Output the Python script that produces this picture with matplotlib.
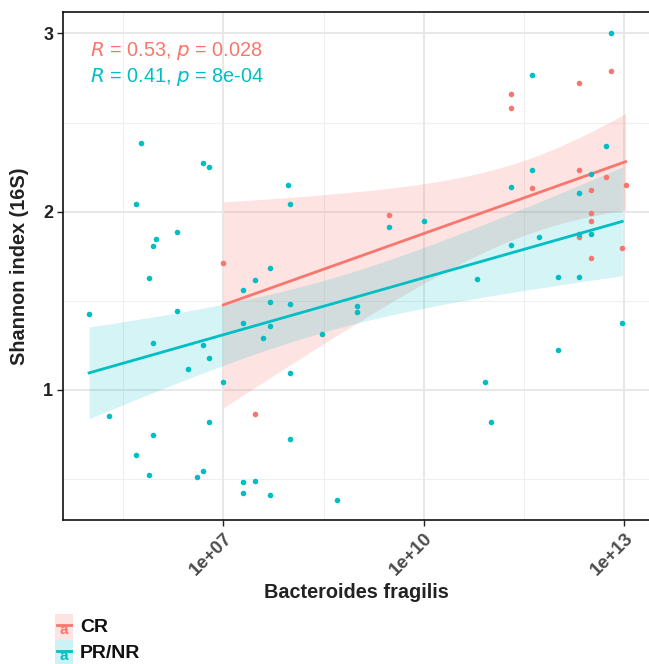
import numpy as np
import matplotlib
matplotlib.use("Agg")
import matplotlib.pyplot as plt
from matplotlib.patches import Rectangle
from matplotlib.lines import Line2D

plt.rcParams['font.family'] = ['Liberation Sans', 'DejaVu Sans']

# log10(Bacteroides fragilis), Shannon index
cr_logx = [7.0, 7.48, 9.48, 12.80, 12.32, 11.31, 11.31, 12.32, 12.72, 11.62,
           13.02, 12.50, 12.50, 12.50, 12.32, 12.97, 12.50]
cr_y = [1.711, 0.865, 1.982, 2.791, 2.720, 2.659, 2.584, 2.234, 2.195, 2.133,
        2.148, 2.121, 1.993, 1.946, 1.858, 1.794, 1.738]

pr_logx = [5.77, 6.70, 6.78, 5.69, 6.30, 5.99, 5.95, 5.89, 7.47, 7.30,
           4.99, 6.30, 7.30, 5.95, 6.70, 6.78, 6.47, 7.00, 5.29, 6.78,
           5.95, 5.69, 5.89, 6.60, 6.70, 7.30, 7.48, 7.30, 7.96, 8.00,
           9.48, 10.00, 7.70, 7.70, 8.00, 9.00, 9.00, 7.70, 7.60, 8.48,
           8.00, 8.00, 7.70, 8.70, 12.80, 11.62, 12.72, 11.62, 12.50, 11.31,
           12.32, 12.32, 12.50, 11.31, 11.72, 10.79, 12.01, 12.32, 12.97, 12.01,
           10.92, 11.01]
pr_y = [2.383, 2.275, 2.251, 2.044, 1.886, 1.849, 1.805, 1.630, 1.619, 1.561,
        1.423, 1.442, 1.376, 1.262, 1.251, 1.181, 1.118, 1.043, 0.853, 0.818,
        0.746, 0.633, 0.520, 0.511, 0.543, 0.485, 0.487, 0.423, 2.148, 2.044,
        1.913, 1.950, 1.683, 1.491, 1.482, 1.472, 1.437, 1.356, 1.292, 1.314,
        1.094, 0.722, 0.411, 0.382, 3.000, 2.769, 2.368, 2.233, 2.213, 2.140,
        2.103, 1.875, 1.875, 1.813, 1.856, 1.623, 1.634, 1.634, 1.375, 1.222,
        1.042, 0.818]

groups = ["CR", "PR/NR"]
colors = {"CR": "#F8766D", "PR/NR": "#00BFC4"}
ribbon_alpha = {"CR": 0.2, "PR/NR": 0.17}
labels_stat = {"CR": ("0.53", "0.028"), "PR/NR": ("0.41", "8e-04")}
t_crit = {"CR": 2.131, "PR/NR": 2.000}
data = {"CR": (np.array(cr_logx), np.array(cr_y)),
        "PR/NR": (np.array(pr_logx), np.array(pr_y))}

xticks = [1e7, 1e10, 1e13]
xticklabels = ["1e+07", "1e+10", "1e+13"]
yticks = [1, 2, 3]

W, H = 649, 664
fig = plt.figure(figsize=(W / 100, H / 100), dpi=100)
ax = fig.add_axes([63 / W, 1 - 520 / H, (649 - 63) / W, (520 - 12) / H])
ax.set_xscale('log')
ax.set_xlim(10 ** 4.6, 10 ** 13.37)
ax.set_ylim(0.27, 3.12)

# grid
for v in [5.5, 8.5, 11.5]:
    ax.axvline(10 ** v, color='#EFEFEF', lw=0.8, zorder=0)
for v in [0.5, 1.5, 2.5]:
    ax.axhline(v, color='#EFEFEF', lw=0.8, zorder=0)
for v in xticks:
    ax.axvline(v, color='#E8E8E8', lw=1.4, zorder=0)
for v in yticks:
    ax.axhline(v, color='#E8E8E8', lw=1.4, zorder=0)

# ribbons and lines
for g in groups:
    lx, y = data[g]
    n = len(lx)
    b, a = np.polyfit(lx, y, 1)
    resid = y - (a + b * lx)
    s = np.sqrt(np.sum(resid ** 2) / (n - 2))
    xm = lx.mean()
    sxx = np.sum((lx - xm) ** 2)
    xs = np.linspace(lx.min(), lx.max(), 100)
    yf = a + b * xs
    se = s * np.sqrt(1 / n + (xs - xm) ** 2 / sxx)
    ax.fill_between(10 ** xs, yf - t_crit[g] * se, yf + t_crit[g] * se,
                    color=colors[g], alpha=ribbon_alpha[g], lw=0, zorder=1)
    ax.plot(10 ** xs, yf, color=colors[g], lw=2, zorder=3)

for g in groups:
    lx, y = data[g]
    ax.scatter(10 ** lx, y, s=16, color=colors[g], lw=0, zorder=4)

# stats text
for i, g in enumerate(groups):
    r, p = labels_stat[g]
    ax.text(10 ** 5.0, 2.90 - i * 0.145,
            r"$\it{R}$ = " + r + r", $\it{p}$ = " + p,
            color=colors[g], fontsize=14.3, va='center', ha='left', zorder=5)

ax.set_xticks(xticks)
ax.set_xticklabels(xticklabels, rotation=45, ha='right', rotation_mode='anchor',
                   fontsize=13.5, fontweight='bold', color='#4D4D4D')
ax.minorticks_off()
ax.set_yticks(yticks)
ax.set_yticklabels([str(v) for v in yticks], fontsize=13, fontweight='bold',
                   color='#222222')
ax.tick_params(axis='both', length=4, width=1, color='#222222', pad=3)
for sp in ['left', 'bottom', 'top']:
    ax.spines[sp].set_linewidth(1.2)
    ax.spines[sp].set_color('#111111')
ax.spines['right'].set_visible(False)

ax.set_xlabel("Bacteroides fragilis", fontsize=14.3, fontweight='bold',
              color='#222222', labelpad=3)
ax.set_ylabel("Shannon index (16S)", fontsize=14.3, fontweight='bold',
              color='#222222', labelpad=10)

# legend (manual, figure pixel coords)
def fy(py):
    return 1 - py / H

for i, g in enumerate(groups):
    top = 614 + i * 26
    fig.add_artist(Rectangle((55 / W, fy(top + 26)), 18 / W, 26 / H,
                             transform=fig.transFigure, color=colors[g],
                             alpha=0.2, lw=0))
    cy = top + 14
    fig.add_artist(Line2D([57 / W, 71 / W], [fy(cy - 3), fy(cy - 3)],
                          transform=fig.transFigure, color=colors[g], lw=2))
    fig.text(64 / W, fy(cy + 2), "a", color=colors[g], fontsize=11,
             fontweight='bold', ha='center', va='center')
    fig.text(80 / W, fy(top + 13), g, fontsize=14, fontweight='bold',
             color='#111111', ha='left', va='center')

fig.savefig("out.png", dpi=100)
